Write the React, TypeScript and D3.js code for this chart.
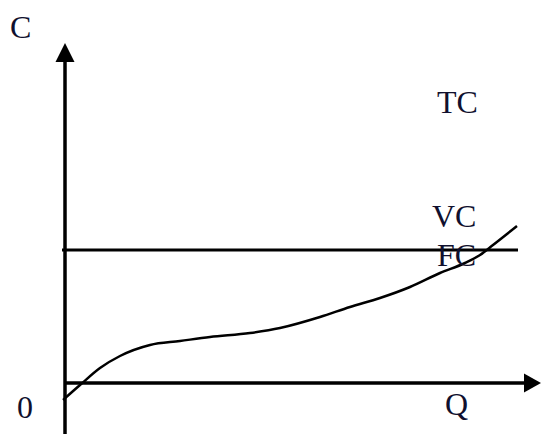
import React from "react";
import * as d3 from "d3";

// quantity (Q) and cost (C) readings of the variable cost curve
const vcQ = [-0.2, 1.5, 3.5, 5.5, 8.5, 11.5, 14.5, 18.5, 21.5, 25.5, 28.5, 31.5, 34.5, 37.5, 40.0, 41.5, 42.8, 45.2];
const vcC = [-1.7, -0.2, 1.5, 2.7, 3.8, 4.2, 4.6, 5.0, 5.5, 6.6, 7.6, 8.5, 9.6, 11.0, 12.0, 12.8, 13.8, 15.7];

// fixed cost level and its span along Q
const fcLevel = 13.3;
const fcSpan = [-0.3, 45.3];

const axisLabels = ["C", "Q", "0"];
const curveLabels = ["TC", "VC", "FC"];

const W = 542;
const H = 434;

export default function App() {
  const x = d3.scaleLinear().domain([0, 47.6]).range([65, 541]);
  const y = d3.scaleLinear().domain([0, 34]).range([383, 43]);

  const pts: [number, number][] = vcQ.map((q, i) => [q, vcC[i]]);
  const line = d3
    .line<[number, number]>()
    .x((d) => x(d[0]))
    .y((d) => y(d[1]))
    .curve(d3.curveMonotoneX);

  const x0 = x(0);
  const y0 = y(0);
  const xEnd = x.range()[1];
  const yTop = y.range()[1];
  const arrow = 17;
  const half = 9.5;

  const font = { fontFamily: "'Liberation Serif', 'Times New Roman', serif", fontSize: 32, fill: "#10102e" };

  return (
    <svg width={W} height={H} style={{ position: "absolute", left: 0, top: 0, background: "#fff" }}>
      {/* vertical axis */}
      <line x1={x0} y1={H + 5} x2={x0} y2={yTop + arrow} stroke="#000" strokeWidth={3.5} />
      <path d={`M${x0},${yTop} L${x0 - half},${yTop + arrow + 2} L${x0 + half},${yTop + arrow + 2} Z`} fill="#000" />
      {/* horizontal axis */}
      <line x1={x0} y1={y0} x2={xEnd - arrow} y2={y0} stroke="#000" strokeWidth={3.5} />
      <path d={`M${xEnd},${y0} L${xEnd - arrow},${y0 - half} L${xEnd - arrow},${y0 + half} Z`} fill="#000" />
      {/* fixed cost */}
      <line x1={x(fcSpan[0])} y1={y(fcLevel)} x2={x(fcSpan[1])} y2={y(fcLevel)} stroke="#000" strokeWidth={3} />
      {/* variable cost */}
      <path d={line(pts) || ""} fill="none" stroke="#000" strokeWidth={2.5} />

      <text x={10} y={38} {...font}>{axisLabels[0]}</text>
      <text x={445} y={415} {...font}>{axisLabels[1]}</text>
      <text x={17} y={418} {...font}>{axisLabels[2]}</text>
      <text x={437} y={113} {...font}>{curveLabels[0]}</text>
      <text x={432} y={227} {...font}>{curveLabels[1]}</text>
      <text x={437} y={266} {...font}>{curveLabels[2]}</text>
    </svg>
  );
}
